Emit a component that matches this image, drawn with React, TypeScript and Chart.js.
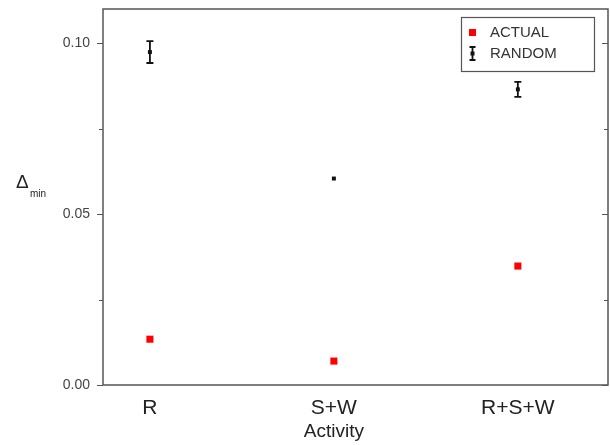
import React, { useEffect, useRef } from "react";
import { Chart, registerables } from "chart.js";

Chart.register(...registerables);

const categories = ["R", "S+W", "R+S+W"];
const actualValues = [0.0134, 0.0070, 0.0348];
const randomValues = [0.0974, 0.0604, 0.0865];
const randomErrors = [0.0032, 0.0003, 0.0022];
const yMajorTicks = [0.0, 0.05, 0.1];
const yMinorTicks = [0.025, 0.075];
const yTickLabels = ["0.00", "0.05", "0.10"];
const legendLabels = ["ACTUAL", "RANDOM"];

const FONT = "'Liberation Sans', Arial, sans-serif";

const customPlugin = {
  id: "custom",
  afterDatasetsDraw(chart: any) {
    const { ctx, chartArea, scales } = chart;
    const xs = scales.x;
    const ys = scales.y;
    ctx.save();

    // frame
    ctx.strokeStyle = "#555";
    ctx.lineWidth = 1.5;
    ctx.strokeRect(chartArea.left, chartArea.top, chartArea.right - chartArea.left, chartArea.bottom - chartArea.top);

    // y ticks left (outward) and right (inward)
    ctx.lineWidth = 1.2;
    const drawTick = (v: number, len: number) => {
      const y = Math.round(ys.getPixelForValue(v)) + 0.5;
      ctx.beginPath();
      ctx.moveTo(chartArea.left - len, y);
      ctx.lineTo(chartArea.left, y);
      ctx.moveTo(chartArea.right - len, y);
      ctx.lineTo(chartArea.right, y);
      ctx.stroke();
    };
    yMajorTicks.forEach((v) => drawTick(v, 6));
    yMinorTicks.forEach((v) => drawTick(v, 4));

    // error bars for RANDOM
    ctx.strokeStyle = "#111";
    ctx.lineWidth = 1.8;
    randomValues.forEach((v, i) => {
      const x = xs.getPixelForValue(i);
      const yt = ys.getPixelForValue(v + randomErrors[i]);
      const yb = ys.getPixelForValue(v - randomErrors[i]);
      ctx.beginPath();
      ctx.moveTo(x, yt);
      ctx.lineTo(x, yb);
      if (randomErrors[i] > 0.001) {
        ctx.moveTo(x - 3.5, yt);
        ctx.lineTo(x + 3.5, yt);
        ctx.moveTo(x - 3.5, yb);
        ctx.lineTo(x + 3.5, yb);
      }
      ctx.stroke();
    });

    // y axis title: Δmin
    ctx.fillStyle = "#222";
    ctx.textBaseline = "middle";
    ctx.textAlign = "left";
    ctx.font = `19px ${FONT}`;
    ctx.fillText("Δ", 16, 183);
    ctx.font = `10px ${FONT}`;
    ctx.fillText("min", 30, 194);

    // x axis title
    ctx.font = `19px ${FONT}`;
    ctx.textAlign = "center";
    ctx.fillText("Activity", xs.getPixelForValue(1), 432);

    // legend
    const lx = 461, ly = 17, lw = 133, lh = 54;
    ctx.fillStyle = "#fff";
    ctx.fillRect(lx, ly, lw, lh);
    ctx.strokeStyle = "#555";
    ctx.lineWidth = 1.2;
    ctx.strokeRect(lx + 0.5, ly + 0.5, lw, lh);
    ctx.fillStyle = "#ff0000";
    ctx.fillRect(469, 29, 7, 7);
    ctx.strokeStyle = "#111";
    ctx.lineWidth = 1.8;
    ctx.beginPath();
    ctx.moveTo(472.5, 47);
    ctx.lineTo(472.5, 60);
    ctx.moveTo(469.5, 47);
    ctx.lineTo(475.5, 47);
    ctx.moveTo(469.5, 60);
    ctx.lineTo(475.5, 60);
    ctx.stroke();
    ctx.fillStyle = "#111";
    ctx.fillRect(470.5, 51.5, 4, 4);
    ctx.fillStyle = "#333";
    ctx.font = `15px ${FONT}`;
    ctx.textAlign = "left";
    ctx.fillText(legendLabels[0], 490, 33);
    ctx.fillText(legendLabels[1], 490, 54);

    ctx.restore();
  },
};

export default function App() {
  const ref = useRef<HTMLCanvasElement>(null);

  useEffect(() => {
    document.body.style.margin = "0";
    const canvas = ref.current;
    if (!canvas) return;
    const chart = new Chart(canvas, {
      type: "scatter",
      data: {
        datasets: [
          {
            label: legendLabels[0],
            data: actualValues.map((v, i) => ({ x: i, y: v })),
            pointStyle: "rect",
            pointRadius: 5,
            backgroundColor: "#ff0000",
            borderColor: "#ff0000",
            borderWidth: 0,
          },
          {
            label: legendLabels[1],
            data: randomValues.map((v, i) => ({ x: i, y: v })),
            pointStyle: "rect",
            pointRadius: 2.8,
            backgroundColor: "#111",
            borderColor: "#111",
            borderWidth: 0,
          },
        ],
      },
      options: {
        responsive: false,
        animation: false,
        layout: { autoPadding: false, padding: { left: 0, top: 9, right: 2, bottom: 0 } },
        plugins: {
          legend: { display: false },
          tooltip: { enabled: false },
        },
        scales: {
          x: {
            type: "linear",
            min: -0.255,
            max: 2.49,
            grid: { display: false, drawTicks: false },
            border: { display: false },
            afterBuildTicks: (scale: any) => {
              scale.ticks = categories.map((_, i) => ({ value: i }));
            },
            afterFit: (scale: any) => {
              scale.height = 60;
              scale.paddingLeft = 0;
              scale.paddingRight = 0;
            },
            ticks: {
              callback: (v: any) => categories[v as number] ?? "",
              font: { family: FONT, size: 21 },
              color: "#222",
              padding: 11,
              maxRotation: 0,
              autoSkip: false,
            },
          },
          y: {
            min: 0,
            max: 0.11,
            grid: { display: false, drawTicks: false },
            border: { display: false },
            afterBuildTicks: (scale: any) => {
              scale.ticks = yMajorTicks.map((v) => ({ value: v }));
            },
            afterFit: (scale: any) => {
              scale.width = 103;
              scale.paddingTop = 0;
              scale.paddingBottom = 0;
            },
            ticks: {
              callback: (v: any) => {
                const idx = yMajorTicks.findIndex((t) => Math.abs(t - v) < 1e-9);
                return idx >= 0 ? yTickLabels[idx] : "";
              },
              font: { family: FONT, size: 14 },
              color: "#444",
              padding: 13,
            },
          },
        },
      },
      plugins: [customPlugin],
    });
    return () => chart.destroy();
  }, []);

  return (
    <div style={{ position: "absolute", left: 0, top: 0, width: 610, height: 445 }}>
      <canvas ref={ref} width={610} height={445} style={{ width: 610, height: 445 }} />
    </div>
  );
}
